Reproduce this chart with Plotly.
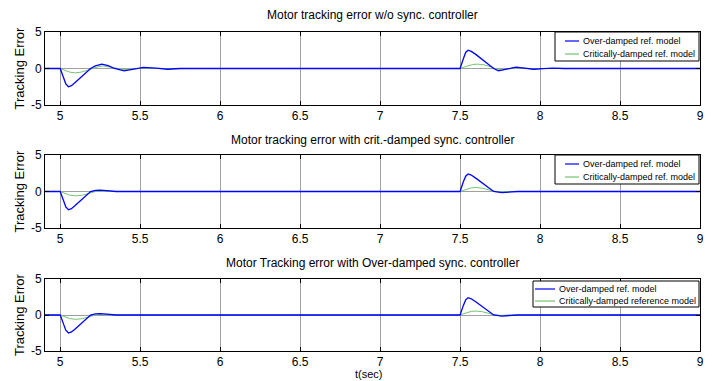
import plotly.graph_objects as go

# ---------------- data ----------------
# Panel 1: w/o sync controller
t1_over = [4.9, 5.0, 5.02, 5.035, 5.052, 5.07, 5.09, 5.12, 5.15, 5.19, 5.22, 5.26, 5.3, 5.34, 5.4, 5.46, 5.52, 5.6, 5.67, 5.75, 5.85,
           7.5, 7.52, 7.535, 7.55, 7.57, 7.6, 7.64, 7.68, 7.71, 7.74, 7.79, 7.85, 7.9, 7.96, 8.02, 8.08, 8.15, 8.25, 9.0]
e1_over = [0.0, 0.0, -1.2, -2.1, -2.5, -2.35, -2.0, -1.4, -0.8, 0.0, 0.35, 0.6, 0.4, 0.0, -0.33, -0.1, 0.15, 0.05, -0.1, 0.0, 0.0,
           0.0, 1.3, 2.2, 2.5, 2.35, 1.9, 1.2, 0.5, 0.0, -0.33, -0.1, 0.2, 0.05, -0.1, -0.02, 0.05, 0.0, 0.0, 0.0]
t1_crit = [4.9, 5.0, 5.03, 5.06, 5.094, 5.13, 5.17, 5.2, 5.24, 5.27, 5.32, 5.4, 5.46, 5.52, 5.6, 5.7,
           7.5, 7.54, 7.58, 7.61, 7.65, 7.69, 7.72, 7.76, 7.81, 7.86, 7.91, 7.95, 8.0, 8.1, 9.0]
e1_crit = [0.0, 0.0, -0.25, -0.5, -0.6, -0.5, -0.25, 0.0, 0.25, 0.35, 0.15, -0.15, -0.05, 0.05, 0.0, 0.0,
           0.0, 0.3, 0.55, 0.6, 0.5, 0.25, 0.0, -0.2, -0.05, 0.15, 0.05, -0.05, 0.0, 0.0, 0.0]

# Panel 2: crit.-damped sync controller
t2_over = [4.9, 5.0, 5.02, 5.035, 5.052, 5.07, 5.09, 5.12, 5.15, 5.19, 5.22, 5.25, 5.29, 5.35, 5.45,
           7.5, 7.52, 7.535, 7.55, 7.57, 7.6, 7.64, 7.68, 7.71, 7.76, 7.81, 7.86, 9.0]
e2_over = [0.0, 0.0, -1.2, -2.1, -2.5, -2.35, -2.0, -1.4, -0.8, 0.0, 0.15, 0.2, 0.12, 0.0, 0.0,
           0.0, 1.3, 2.1, 2.4, 2.25, 1.8, 1.1, 0.45, 0.0, -0.15, -0.08, 0.0, 0.0]
t2_crit = [4.9, 5.0, 5.03, 5.06, 5.1, 5.14, 5.18, 5.22, 5.27, 5.35,
           7.5, 7.54, 7.57, 7.6, 7.64, 7.68, 7.72, 7.76, 7.82, 9.0]
e2_crit = [0.0, 0.0, -0.25, -0.5, -0.6, -0.5, -0.25, 0.0, 0.05, 0.0,
           0.0, 0.3, 0.5, 0.55, 0.45, 0.22, 0.0, -0.05, 0.0, 0.0]

# Panel 3: Over-damped sync controller
t3_over = [4.9, 5.0, 5.02, 5.035, 5.052, 5.07, 5.09, 5.12, 5.15, 5.19, 5.22, 5.25, 5.29, 5.35, 5.45,
           7.5, 7.52, 7.535, 7.55, 7.57, 7.6, 7.64, 7.68, 7.71, 7.76, 7.81, 7.86, 9.0]
e3_over = [0.0, 0.0, -1.2, -2.1, -2.5, -2.35, -2.0, -1.4, -0.8, 0.0, 0.15, 0.2, 0.12, 0.0, 0.0,
           0.0, 1.3, 2.1, 2.4, 2.25, 1.8, 1.1, 0.45, 0.0, -0.15, -0.08, 0.0, 0.0]
t3_crit = [4.9, 5.0, 5.03, 5.06, 5.1, 5.14, 5.18, 5.22, 5.27, 5.35, 5.75,
           7.5, 7.54, 7.57, 7.6, 7.64, 7.68, 7.72, 7.76, 7.82, 9.0]
e3_crit = [0.0, 0.0, -0.25, -0.5, -0.6, -0.5, -0.25, 0.0, 0.05, 0.0, 0.0,
           0.0, 0.3, 0.5, 0.55, 0.45, 0.22, 0.0, -0.05, 0.0, 0.0]

titles = ["Motor tracking error w/o sync. controller",
          "Motor tracking error with crit.-damped sync. controller",
          "Motor Tracking error with Over-damped sync. controller"]
legend_names = [("Over-damped ref. model", "Critically-damped ref. model"),
                ("Over-damped ref. model", "Critically-damped ref. model"),
                ("Over-damped ref. model", "Critically-damped reference model")]
x_ticks = [5, 5.5, 6, 6.5, 7, 7.5, 8, 8.5, 9]
x_ticktext = ["5", "5.5", "6", "6.5", "7", "7.5", "8", "8.5", "9"]
y_ticks = [-5, 0, 5]
y_ticktext = ["-5", "0", "5"]
y_label = "Tracking Error"
x_label = "t(sec)"

# ---------------- layout geometry (pixels) ----------------
W, H = 712, 381
X0, X1 = 45, 700
panels_px = [(32, 105), (155, 228), (279, 351)]
title_px = [15, 140, 263]
# legend boxes: (left, top, bottom, line_x0, line_x1, text_x, row1_y, row2_y)
legend_px = [(555, 32, 61, 565, 579, 581, 41, 54),
             (555, 155, 184, 565, 579, 581, 164, 177),
             (533, 281, 307, 535, 555, 557, 289, 301)]

BLUE = "#0000ff"
GREEN = "#74c474"
FONT = "Liberation Sans, Arial, sans-serif"

fig = go.Figure()
data = [(t1_over, e1_over, t1_crit, e1_crit),
        (t2_over, e2_over, t2_crit, e2_crit),
        (t3_over, e3_over, t3_crit, e3_crit)]


def px_x(p):
    return p / W


def px_y(p):
    return 1 - p / H


annotations = []
shapes = []
layout = dict()
for i, (to, eo, tc, ec) in enumerate(data):
    n = i + 1
    xa = "x" if n == 1 else f"x{n}"
    ya = "y" if n == 1 else f"y{n}"
    fig.add_trace(go.Scatter(x=tc, y=ec, mode="lines", name=legend_names[i][1],
                             line=dict(color=GREEN, width=1), xaxis=xa, yaxis=ya,
                             showlegend=False))
    fig.add_trace(go.Scatter(x=to, y=eo, mode="lines", name=legend_names[i][0],
                             line=dict(color=BLUE, width=1.3), xaxis=xa, yaxis=ya,
                             showlegend=False))
    top, bot = panels_px[i]
    ydom = [1 - bot / H, 1 - top / H]
    axcommon = dict(showline=True, linecolor="black", linewidth=1, mirror="ticks",
                    ticks="inside", ticklen=4, tickcolor="black", automargin=False,
                    tickfont=dict(family=FONT, size=12, color="black"),
                    showgrid=True, gridcolor="#a0a0a0", gridwidth=1, zeroline=False)
    layout["xaxis" if n == 1 else f"xaxis{n}"] = dict(
        domain=[X0 / W, X1 / W], range=[4.905, 9.0], anchor=ya,
        tickvals=x_ticks, ticktext=x_ticktext, **axcommon)
    layout["yaxis" if n == 1 else f"yaxis{n}"] = dict(
        domain=ydom, range=[-5, 5], anchor=xa,
        tickvals=y_ticks, ticktext=y_ticktext, **axcommon)

    # legend box (drawn manually to match compact MATLAB legend)
    lx, lt, lb, l0, l1, tx, r1, r2 = legend_px[i]
    shapes.append(dict(type="rect", xref="paper", yref="paper",
                       x0=px_x(lx), x1=px_x(X1 - 1), y0=px_y(lb), y1=px_y(lt),
                       line=dict(color="black", width=1), fillcolor="white", layer="above"))
    for (rowy, col, name) in [(r1, BLUE, legend_names[i][0]), (r2, GREEN, legend_names[i][1])]:
        shapes.append(dict(type="line", xref="paper", yref="paper",
                           x0=px_x(l0), x1=px_x(l1), y0=px_y(rowy), y1=px_y(rowy),
                           line=dict(color=col, width=1.2), layer="above"))
        annotations.append(dict(text=name, x=px_x(tx), y=px_y(rowy), xref="paper", yref="paper",
                                showarrow=False, xanchor="left", yanchor="middle",
                                font=dict(family=FONT, size=9, color="black")))

    annotations.append(dict(text=titles[i], x=(X0 + X1) / 2 / W, y=px_y(title_px[i]),
                            xref="paper", yref="paper", showarrow=False,
                            xanchor="center", yanchor="middle",
                            font=dict(family=FONT, size=12, color="black")))
    annotations.append(dict(text=y_label, x=px_x(19), y=px_y((top + bot) / 2),
                            xref="paper", yref="paper", showarrow=False, textangle=-90,
                            xanchor="center", yanchor="middle",
                            font=dict(family=FONT, size=13, color="black")))

annotations.append(dict(text=x_label, x=px_x(369), y=px_y(374),
                        xref="paper", yref="paper", showarrow=False,
                        xanchor="center", yanchor="middle",
                        font=dict(family=FONT, size=11, color="black")))

fig.update_layout(width=W, height=H, margin=dict(l=0, r=0, t=0, b=0, pad=0, autoexpand=False),
                  paper_bgcolor="white", plot_bgcolor="white",
                  showlegend=False, annotations=annotations, shapes=shapes, **layout)

fig.write_html("out.html")
